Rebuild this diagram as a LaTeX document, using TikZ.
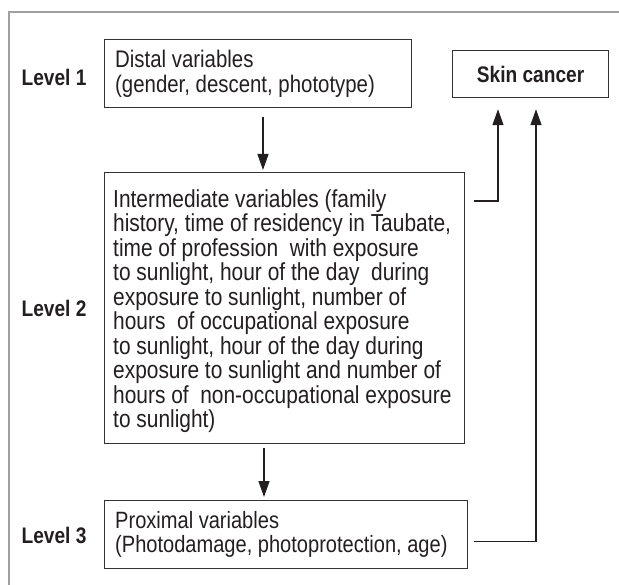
\documentclass[tikz,border=0pt]{standalone}
\usepackage{fontspec}
\setmainfont{Liberation Sans}[FakeStretch=0.85]
\usetikzlibrary{arrows.meta}
\definecolor{ink}{HTML}{231F20}
\definecolor{boxline}{HTML}{333333}
\definecolor{framegray}{HTML}{A0A0A0}
\tikzset{
  varbox/.style={draw=boxline, line width=1.2pt, rectangle, anchor=north west, inner sep=0pt},
  boxtext/.style={anchor=west, align=left, text=ink, inner sep=0pt, font=\fontsize{24}{24.5}\selectfont},
  levellabel/.style={text=ink, inner sep=0pt, font=\fontsize{22.5}{24}\selectfont\bfseries},
  conn/.style={draw=ink, line width=1.2pt},
  arr/.style={conn, -{Triangle[length=16pt, width=11pt]}},
}
\begin{document}
\begin{tikzpicture}[x=1pt, y=-1pt]
\useasboundingbox (0,0) rectangle (619,585);
% open frame
\draw[framegray, line width=1.1pt] (9,585) -- (9,12) -- (619,12);

% boxes
\node[varbox, minimum width=307pt, minimum height=68pt] (distal) at (104,39) {};
\node[boxtext] (distaltext) at ([xshift=11pt]distal.west) {Distal variables\\(gender, descent, phototype)};

\node[varbox, minimum width=156pt, minimum height=47pt] (skin) at (452,50) {};
\node[levellabel] (skintext) at (skin.center) {Skin cancer};

\node[varbox, minimum width=360pt, minimum height=271pt] (inter) at (104,172) {};
\node[boxtext, font=\fontsize{24.6}{24.5}\selectfont] (intertext) at ([xshift=9pt, yshift=-3pt]inter.west) {Intermediate variables (family\\
history, time of residency in Taubate,\\
time of profession\ \ with exposure\\
to sunlight, hour of the day\ \ during\\
exposure to sunlight, number of\\
hours\ \ of occupational exposure\\
to sunlight, hour of the day during\\
exposure to sunlight and number of\\
hours of\ \ non-occupational exposure\\
to sunlight)};

\node[varbox, minimum width=363pt, minimum height=68pt] (prox) at (104,500) {};
\node[boxtext, font=\fontsize{23.6}{24.5}\selectfont] (proxtext) at ([xshift=11pt]prox.west) {Proximal variables\\(Photodamage, photoprotection, age)};

% level labels
\node[levellabel] (lev1) at (54,77) {Level 1};
\node[levellabel] (lev2) at (54,308) {Level 2};
\node[levellabel] (lev3) at (54,535) {Level 3};

% connectors
\draw[arr] ([xshift=159pt, yshift=-9pt]distal.south west) -- ([xshift=159pt, yshift=2pt]inter.north west);
\draw[arr] ([xshift=160pt, yshift=-4pt]inter.south west) -- ([xshift=160pt, yshift=3pt]prox.north west);
\draw[arr] ([xshift=9pt, yshift=-29pt]inter.north east) -| ([xshift=46pt, yshift=-11pt]skin.south west);
\draw[arr] ([xshift=6pt, yshift=-7pt]prox.east) -| ([xshift=84pt, yshift=-11pt]skin.south west);
\end{tikzpicture}
\end{document}
